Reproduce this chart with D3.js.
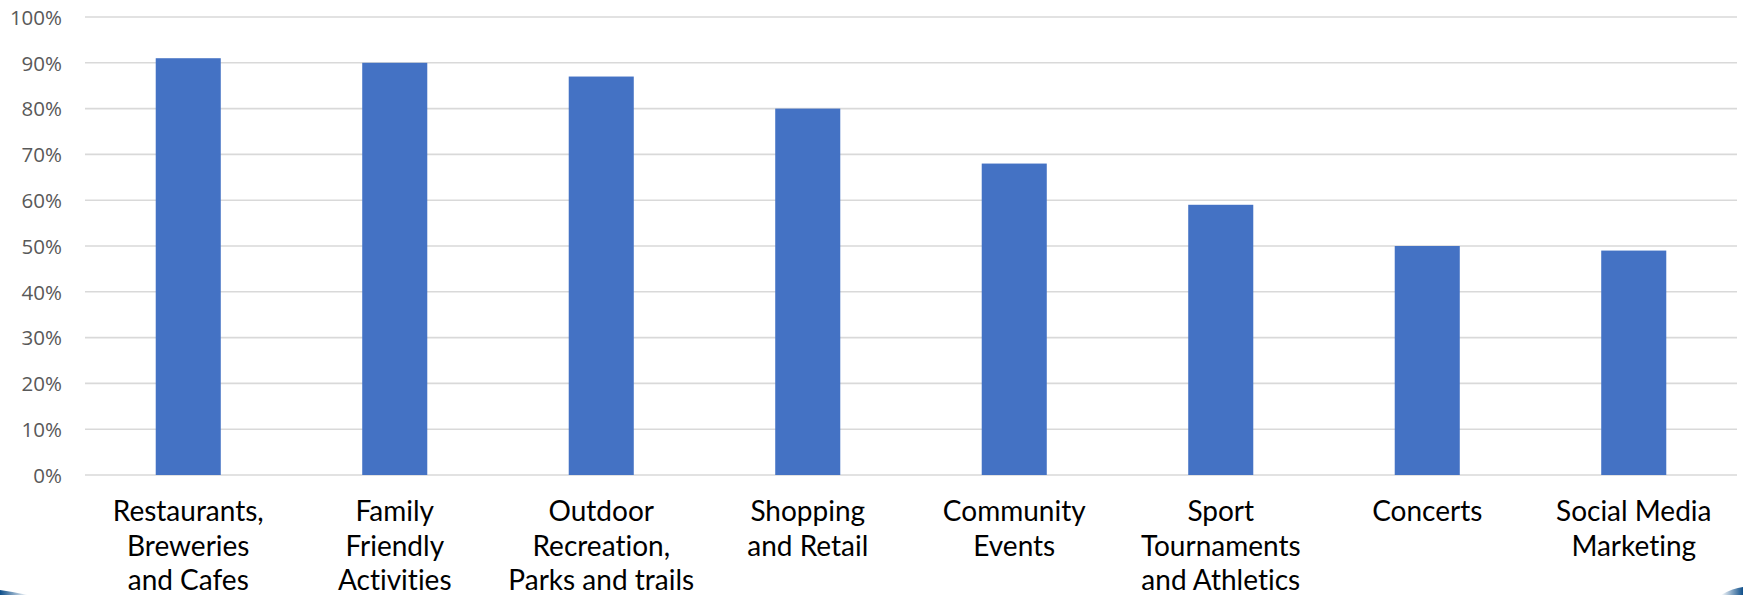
<!DOCTYPE html>
<html>
<head>
<meta charset="utf-8">
<script src="https://cdn.jsdelivr.net/npm/d3@7"></script>
<style>
  html, body { margin: 0; padding: 0; background: #fff; }
  svg { display: block; }
  text { font-variant-ligatures: none; font-feature-settings: "liga" 0, "clig" 0; }
</style>
</head>
<body>
<svg id="chart" width="1743" height="595"></svg>
<script>
// Survey categories (each label split into its display lines)
const categories = [
  ["Restaurants,", "Breweries", "and Cafes"],
  ["Family", "Friendly", "Activities"],
  ["Outdoor", "Recreation,", "Parks and trails"],
  ["Shopping", "and Retail"],
  ["Community", "Events"],
  ["Sport", "Tournaments", "and Athletics"],
  ["Concerts"],
  ["Social Media", "Marketing"]
];
// Share of respondents, in percent
const values = [91, 90, 87, 80, 68, 59, 50, 49];
// Y axis ticks, in percent
const yTicks = [0, 10, 20, 30, 40, 50, 60, 70, 80, 90, 100];

const svg = d3.select("#chart");
const W = 1743, H = 595;
const plot = { left: 85, right: 1737, top: 17, bottom: 475 };

const keys = categories.map(c => c.join(" "));
const x = d3.scaleBand()
  .domain(keys)
  .range([plot.left, plot.right])
  .paddingInner(0.685)
  .paddingOuter(0.3425);

const y = d3.scaleLinear().domain([0, 100]).range([plot.bottom, plot.top]);

// Horizontal gridlines
svg.append("g")
  .selectAll("line")
  .data(yTicks)
  .join("line")
  .attr("x1", plot.left)
  .attr("x2", plot.right)
  .attr("y1", d => y(d))
  .attr("y2", d => y(d))
  .attr("stroke", "#d9d9d9")
  .attr("stroke-width", 1.6);

// Y axis labels
const yAxis = d3.axisLeft(y)
  .tickValues(yTicks)
  .tickFormat(d => d + "%")
  .tickSize(0)
  .tickPadding(23);
const gy = svg.append("g")
  .attr("transform", `translate(${plot.left},0)`)
  .call(yAxis);
gy.select(".domain").remove();
gy.selectAll("text")
  .attr("font-family", "'Open Sans', sans-serif")
  .attr("font-size", 20.5)
  .attr("fill", "#595959")
  .attr("dy", "0.36em");

// Bars
svg.append("g")
  .selectAll("rect")
  .data(values)
  .join("rect")
  .attr("x", (d, i) => x(keys[i]))
  .attr("width", x.bandwidth())
  .attr("y", d => y(d))
  .attr("height", d => y(0) - y(d))
  .attr("fill", "#4472c4");

// Category labels under the bars
const xAxis = svg.append("g");
categories.forEach((lines, i) => {
  const cx = x(keys[i]) + x.bandwidth() / 2;
  const t = xAxis.append("text")
    .attr("x", cx)
    .attr("y", 521)
    .attr("text-anchor", "middle")
    .attr("font-family", "Lato, 'Open Sans', sans-serif")
    .attr("font-size", 28)
    .attr("fill", "#000");
  lines.forEach((ln, j) => {
    t.append("tspan")
      .attr("x", cx)
      .attr("dy", j === 0 ? 0 : 34.7)
      .text(ln);
  });
});

// Small blue swooshes in the bottom corners
const defs = svg.append("defs");
const gl = defs.append("linearGradient").attr("id", "swL").attr("x1", "0").attr("x2", "1");
gl.append("stop").attr("offset", "0").attr("stop-color", "#0f4f8a");
gl.append("stop").attr("offset", "1").attr("stop-color", "#0f4f8a").attr("stop-opacity", 0);
const gr = defs.append("linearGradient").attr("id", "swR").attr("x1", "1").attr("x2", "0");
gr.append("stop").attr("offset", "0").attr("stop-color", "#0f4f8a");
gr.append("stop").attr("offset", "1").attr("stop-color", "#0f4f8a").attr("stop-opacity", 0);

svg.append("path")
  .attr("d", `M0,590 Q14,592 28,595 L0,595 Z`)
  .attr("fill", "url(#swL)");
svg.append("path")
  .attr("d", `M${W},587 Q${W - 10},588 ${W - 22},595 L${W},595 Z`)
  .attr("fill", "url(#swR)");
</script>
</body>
</html>
